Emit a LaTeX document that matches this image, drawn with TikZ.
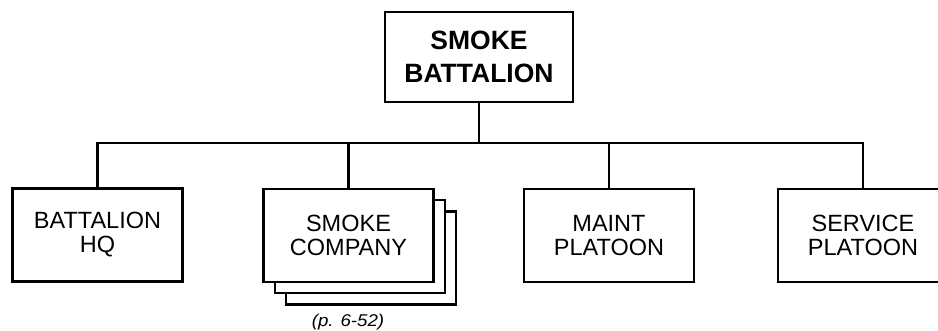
\documentclass[tikz,border=0pt]{standalone}
\usepackage{fontspec}
\setmainfont{Liberation Sans}
\begin{document}
\begin{tikzpicture}[x=1pt,y=-1pt,
  unit/.style={draw, line width=2.2pt, fill=white, minimum width=170pt, minimum height=93pt,
    align=center, inner sep=0pt, font=\fontsize{23.5}{24}\selectfont},
  topunit/.style={unit, minimum width=188pt, minimum height=90pt, font=\bfseries\fontsize{26.5}{33}\selectfont},
  link/.style={line width=2.2pt}]
\useasboundingbox (0,0) rectangle (938,330);
\clip (0,0) rectangle (938,330);
\node[topunit] (top) at (479,57) {SMOKE\\BATTALION};
\node[unit] (hq) at (97.5,235) {BATTALION\\HQ};
\node[unit] (co3) at (371,258) {};
\node[unit] (co2) at (360,246.5) {};
\node[unit] (co) at (348.5,235.5) {SMOKE\\COMPANY};
\node[unit] (mt) at (609,235.5) {MAINT\\PLATOON};
\node[unit] (svc) at (863,235.5) {SERVICE\\PLATOON};
\node[font=\itshape\fontsize{17}{18}\selectfont] (ref) at (348,322) {\scalebox{1.1}[1]{(p. 6-52)}};
\draw[link] (top.south) -- ++(0,40) coordinate (bus);
\draw[link] (hq.north) |- (bus) -| (svc.north);
\draw[link] (co.north) -- (co.north |- bus);
\draw[link] (mt.north) -- (mt.north |- bus);
\end{tikzpicture}
\end{document}
